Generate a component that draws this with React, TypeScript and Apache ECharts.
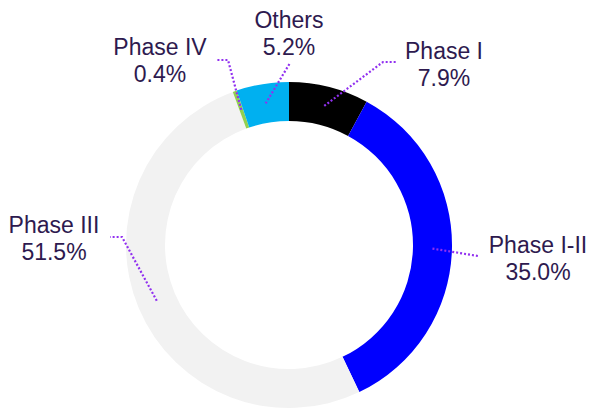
import React, { useEffect, useRef } from "react";
import * as echarts from "echarts";

const categories = ["Phase I", "Phase I-II", "Phase III", "Phase IV", "Others"];
const shares = [7.9, 35.0, 51.5, 0.4, 5.2];
const colors = ["#000000", "#0000ff", "#f2f2f2", "#92d050", "#00b0f0"];

// annotation layout (label block centre, leader-line elbow points)
const labelPos: [number, number][] = [
  [444, 64],
  [538, 258],
  [54, 238],
  [160, 60],
  [289, 33],
];
const leaderTail: [number, number][][] = [
  [[383, 62], [396, 62]],
  [[478, 256]],
  [[122, 237], [110, 237]],
  [[228, 60], [217, 60]],
  [[290, 63]],
];

const CX = 289;
const CY = 245;
const R_IN = 124;
const R_OUT = 163;

export default function App() {
  const ref = useRef<HTMLDivElement>(null);
  useEffect(() => {
    if (!ref.current) return;
    const chart = echarts.init(ref.current, undefined, { renderer: "svg" });
    const total = shares.reduce((a, b) => a + b, 0);
    const rMid = (R_IN + R_OUT) / 2;
    let cum = 0;
    const graphics: any[] = [];
    shares.forEach((v, i) => {
      const theta = (2 * Math.PI * (cum + v / 2)) / total;
      cum += v;
      const sx = CX + rMid * Math.sin(theta);
      const sy = CY - rMid * Math.cos(theta);
      graphics.push({
        type: "polyline",
        silent: true,
        z: 10,
        shape: { points: [[sx, sy], ...leaderTail[i]] },
        style: { stroke: "#9130f0", lineWidth: 2.2, lineDash: [2, 2], fill: null },
      });
      graphics.push({
        type: "text",
        z: 10,
        x: labelPos[i][0],
        y: labelPos[i][1],
        style: {
          text: `${categories[i]}\n${v.toFixed(1)}%`,
          fill: "#2e1a4f",
          fontSize: 23,
          fontFamily: "Liberation Sans, Arial, sans-serif",
          lineHeight: 27,
          align: "center",
          verticalAlign: "middle",
        },
      });
    });
    chart.setOption({
      animation: false,
      backgroundColor: "#ffffff",
      graphic: graphics,
      series: [
        {
          type: "pie",
          center: [CX, CY],
          radius: [R_IN, R_OUT],
          startAngle: 90,
          clockwise: true,
          label: { show: false },
          labelLine: { show: false },
          emphasis: { disabled: true },
          data: categories.map((c, i) => ({
            name: c,
            value: shares[i],
            itemStyle: { color: colors[i] },
          })),
        },
      ],
    });
    return () => chart.dispose();
  }, []);
  return (
    <div
      ref={ref}
      style={{ position: "fixed", left: 0, top: 0, width: 591, height: 409 }}
    />
  );
}
